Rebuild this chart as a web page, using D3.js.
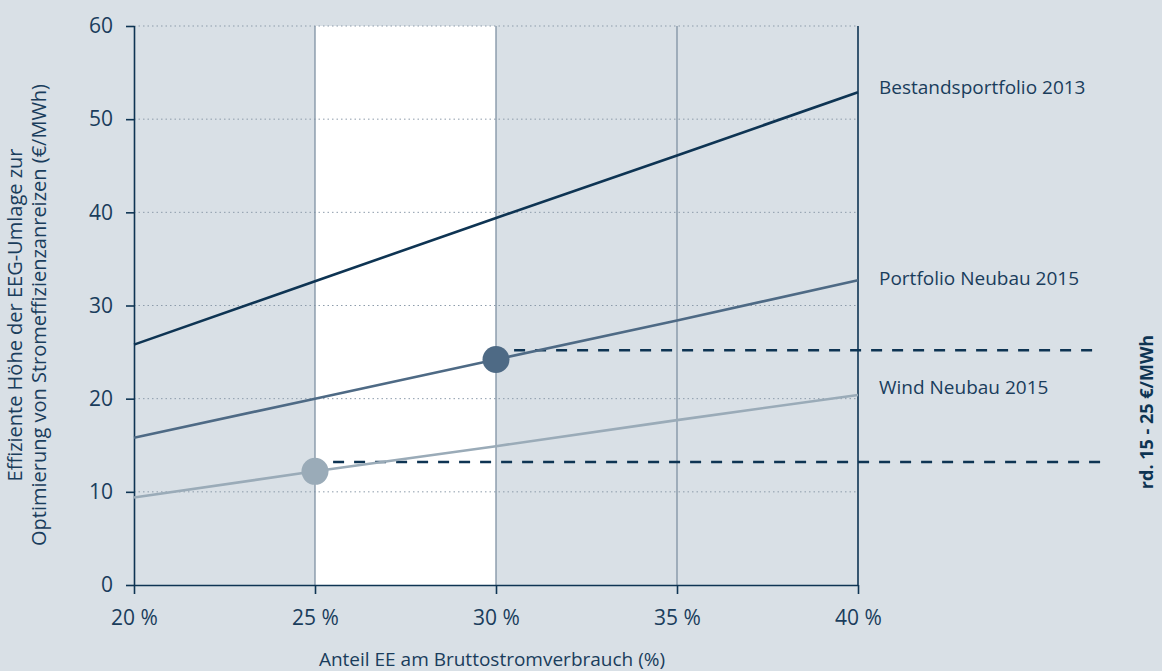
<!DOCTYPE html>
<html>
<head>
<meta charset="utf-8">
<script src="https://cdn.jsdelivr.net/npm/d3@7"></script>
<style>
  html, body { margin: 0; padding: 0; background: #d9e0e6; }
  svg { display: block; font-family: "Open Sans", "Noto Sans", sans-serif; }
</style>
</head>
<body>
<svg id="chart" width="1162" height="671"></svg>
<script>
// Share of renewables in gross electricity consumption (%)
const shares = [20, 25, 30, 35, 40];
const yTicks = [0, 10, 20, 30, 40, 50, 60];

// Efficient EEG levy level (€/MWh) per portfolio
const seriesNames = ["Bestandsportfolio 2013", "Portfolio Neubau 2015", "Wind Neubau 2015"];
const bestand2013 = [25.8, 32.6, 39.4, 46.1, 52.9];
const portfolio2015 = [15.8, 20.0, 24.2, 28.4, 32.7];
const wind2015 = [9.4, 12.2, 14.9, 17.7, 20.4];

// Highlighted operating points and the resulting range
const markerShares = [30, 25];
const markerValues = [24.2, 12.2];
const rangeLevels = [25.2, 13.2];
const rangeStart = [30.5, 25.5];
const rangeLabel = "rd. 15 - 25 €/MWh";
const efficientBand = [25, 30];

const svg = d3.select("#chart");
const margin = { left: 134, right: 858, top: 26, bottom: 585 };

const x = d3.scaleLinear().domain([20, 40]).range([margin.left, margin.right]);
const y = d3.scaleLinear().domain([0, 60]).range([margin.bottom, margin.top]);

const navy = "#0e3453";
const textColor = "#1a3d5c";
const colors = [navy, "#4e6a85", "#9aabb8"];
const data = [bestand2013, portfolio2015, wind2015];
const fontSize = "19px";
const tickFontSize = "21px";

// White band marking the efficient range
svg.append("rect")
  .attr("x", x(efficientBand[0]))
  .attr("y", y(60))
  .attr("width", x(efficientBand[1]) - x(efficientBand[0]))
  .attr("height", y(0) - y(60))
  .attr("fill", "#ffffff");

// Dotted horizontal gridlines
svg.append("g")
  .selectAll("line")
  .data(yTicks.filter(d => d > 0))
  .join("line")
  .attr("x1", x(20)).attr("x2", x(40))
  .attr("y1", d => y(d)).attr("y2", d => y(d))
  .attr("stroke", "#8d9cab")
  .attr("stroke-width", 1)
  .attr("stroke-dasharray", "1.5,3");

// Vertical gridlines
svg.append("g")
  .selectAll("line")
  .data([25, 30, 35])
  .join("line")
  .attr("x1", d => x(d)).attr("x2", d => x(d))
  .attr("y1", y(60)).attr("y2", y(0))
  .attr("stroke", "#7f91a3")
  .attr("stroke-width", 1.3);

// Right border at 40 %
svg.append("line")
  .attr("x1", x(40)).attr("x2", x(40))
  .attr("y1", y(60)).attr("y2", y(0))
  .attr("stroke", navy)
  .attr("stroke-width", 1.6);

// Axes
const xAxis = d3.axisBottom(x)
  .tickValues(shares)
  .tickSize(9)
  .tickPadding(16)
  .tickFormat(d => d + " %");
const gx = svg.append("g")
  .attr("transform", `translate(0,${y(0)})`)
  .call(xAxis);

const yAxis = d3.axisLeft(y)
  .tickValues(yTicks)
  .tickSize(8)
  .tickPadding(13);
const gy = svg.append("g")
  .attr("transform", `translate(${x(20)},0)`)
  .call(yAxis);

[gx, gy].forEach(g => {
  g.attr("font-size", null).attr("font-family", null);
  g.select(".domain").attr("stroke", navy).attr("stroke-width", 1.6);
  g.selectAll(".tick line").attr("stroke", navy).attr("stroke-width", 1.6);
  g.selectAll(".tick text")
    .attr("fill", textColor)
    .style("font-size", tickFontSize);
});
gx.select(".domain").attr("d", `M${x(20)},0.5H${x(40)}`);
gy.select(".domain").attr("d", `M0.5,${y(60)}V${y(0)}`);

// Dashed range lines
svg.append("g")
  .selectAll("line")
  .data(rangeLevels)
  .join("line")
  .attr("x1", (d, i) => x(rangeStart[i]))
  .attr("x2", 1102)
  .attr("y1", d => y(d)).attr("y2", d => y(d))
  .attr("stroke", navy)
  .attr("stroke-width", 2.4)
  .attr("stroke-dasharray", "11,10");

// Series lines
const line = d3.line()
  .x((d, i) => x(shares[i]))
  .y(d => y(d));

svg.append("g")
  .selectAll("path")
  .data(data)
  .join("path")
  .attr("d", line)
  .attr("fill", "none")
  .attr("stroke", (d, i) => colors[i])
  .attr("stroke-width", 2.6);

// Operating points
svg.append("g")
  .selectAll("circle")
  .data(markerValues)
  .join("circle")
  .attr("cx", (d, i) => x(markerShares[i]))
  .attr("cy", d => y(d))
  .attr("r", 13.5)
  .attr("fill", (d, i) => colors[i + 1]);

// Series labels at the line ends
const labelY = [87, 278, 387];
svg.append("g")
  .selectAll("text")
  .data(seriesNames)
  .join("text")
  .attr("x", 879)
  .attr("y", (d, i) => labelY[i])
  .attr("dy", "0.35em")
  .attr("fill", textColor)
  .style("font-size", fontSize)
  .text(d => d);

// Range label
svg.append("text")
  .attr("transform", "translate(1147,412) rotate(-90)")
  .attr("text-anchor", "middle")
  .attr("dy", "0.35em")
  .attr("fill", navy)
  .style("font-size", "18px")
  .style("font-weight", "bold")
  .text(rangeLabel);

// Axis titles
svg.append("text")
  .attr("x", 492)
  .attr("y", 659)
  .attr("text-anchor", "middle")
  .attr("dy", "0.35em")
  .attr("fill", textColor)
  .style("font-size", fontSize)
  .text("Anteil EE am Bruttostromverbrauch (%)");

const yTitle = svg.append("text")
  .attr("transform", "translate(28,315) rotate(-90)")
  .attr("text-anchor", "middle")
  .attr("fill", textColor)
  .style("font-size", "20px");
yTitle.append("tspan").attr("x", 0).attr("dy", "-0.3em").text("Effiziente Höhe der EEG-Umlage zur");
yTitle.append("tspan").attr("x", 0).attr("dy", "1.2em").text("Optimierung von Stromeffizienzanreizen (€/MWh)");
</script>
</body>
</html>
